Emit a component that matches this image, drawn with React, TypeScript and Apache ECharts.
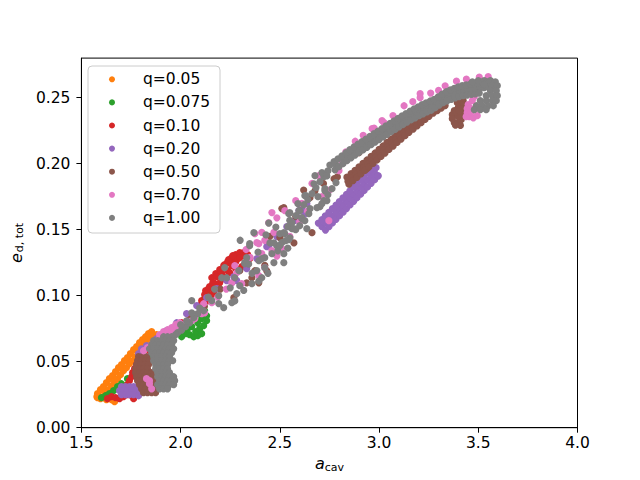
import React, { useEffect, useRef } from 'react';
import * as echarts from 'echarts';

const X_TICKS = [1.5, 2.0, 2.5, 3.0, 3.5, 4.0];
const Y_TICKS = [0, 0.05, 0.1, 0.15, 0.2, 0.25];
const SERIES_NAMES = ['q=0.05', 'q=0.075', 'q=0.10', 'q=0.20', 'q=0.50', 'q=0.70', 'q=1.00'];
const SERIES_COLORS = ['#ff7f0e', '#2ca02c', '#d62728', '#9467bd', '#8c564b', '#e377c2', '#7f7f7f'];

const Q005: number[][] = [
  [1.581, 0.0258], [1.596, 0.0288], [1.611, 0.0311], [1.626, 0.0341], [1.641, 0.0371], [1.657, 0.0394], [1.672, 0.0424],
  [1.687, 0.0455], [1.702, 0.0477], [1.717, 0.0508], [1.732, 0.0530], [1.747, 0.0561], [1.763, 0.0591], [1.778, 0.0614],
  [1.793, 0.0644], [1.808, 0.0667], [1.823, 0.0689], [1.838, 0.0712], [1.854, 0.0727],
  [1.606, 0.0235], [1.621, 0.0265], [1.636, 0.0288], [1.652, 0.0318], [1.667, 0.0348], [1.682, 0.0371], [1.697, 0.0402],
  [1.712, 0.0432], [1.727, 0.0455], [1.742, 0.0485], [1.758, 0.0508], [1.773, 0.0538], [1.788, 0.0568], [1.803, 0.0591],
  [1.818, 0.0621], [1.833, 0.0644], [1.848, 0.0667], [1.864, 0.0689], [1.879, 0.0705],
  [1.578, 0.0235], [1.581, 0.0227], [1.596, 0.0220], [1.626, 0.0212], [1.652, 0.0212], [1.667, 0.0197],
];

const Q0075: number[][] = [
  [1.601, 0.0227], [1.621, 0.0242], [1.641, 0.0258], [1.662, 0.0280], [1.682, 0.0311], [1.702, 0.0333],
  [1.732, 0.0371], [1.763, 0.0417], [1.803, 0.0470], [1.854, 0.0530], [1.904, 0.0583], [1.955, 0.0644],
  [2.005, 0.0689], [2.025, 0.0712], [2.045, 0.0705], [2.066, 0.0689], [2.086, 0.0697], [2.106, 0.0712], [2.076, 0.0727],
  [2.096, 0.0750], [2.116, 0.0773], [2.131, 0.0811], [2.131, 0.0848], [2.121, 0.0886], [2.106, 0.0826], [2.086, 0.0795],
  [2.056, 0.0765], [2.035, 0.0750], [2.106, 0.0924], [2.121, 0.0977], [2.131, 0.1030],
];

const Q010: number[][] = [
  [1.631, 0.0220], [1.652, 0.0235], [1.672, 0.0227], [1.692, 0.0220], [1.712, 0.0235], [1.732, 0.0250], [1.753, 0.0242],
  [1.763, 0.0220], [1.702, 0.0265],
  [1.722, 0.0295], [1.732, 0.0326], [1.742, 0.0356], [1.753, 0.0386], [1.758, 0.0417], [1.768, 0.0447], [1.778, 0.0477],
  [1.803, 0.0530], [1.843, 0.0583], [1.884, 0.0636], [1.924, 0.0689], [1.965, 0.0742], [2.005, 0.0795], [2.045, 0.0848],
  [2.096, 0.0924], [2.116, 0.0962], [2.136, 0.0992], [2.126, 0.1038], [2.146, 0.1068], [2.167, 0.1098], [2.157, 0.1136],
  [2.177, 0.1167], [2.197, 0.1197], [2.217, 0.1227], [2.237, 0.1258], [2.258, 0.1288], [2.278, 0.1311], [2.298, 0.1326],
  [2.318, 0.1326], [2.338, 0.1311], [2.348, 0.1280], [2.328, 0.1250], [2.308, 0.1220], [2.278, 0.1205], [2.247, 0.1174],
  [2.217, 0.1129], [2.187, 0.1083], [2.167, 0.1023], [2.146, 0.0962], [2.247, 0.1250], [2.207, 0.1167], [2.288, 0.1280],
  [2.116, 0.0917], [2.136, 0.0962], [2.157, 0.1008], [2.177, 0.1053], [2.197, 0.1098], [2.217, 0.1144], [2.237, 0.1189],
  [2.258, 0.1227], [2.278, 0.1258], [2.298, 0.1288], [2.323, 0.1303],
  [2.106, 0.0962], [2.121, 0.1008], [2.141, 0.1053], [2.162, 0.1098], [2.182, 0.1144], [2.202, 0.1189], [2.222, 0.1235],
  [2.242, 0.1273], [2.263, 0.1303],
];

const Q020: number[][] = [
  [1.702, 0.0311], [1.722, 0.0311], [1.742, 0.0311], [1.763, 0.0311], [1.783, 0.0311],
  [1.692, 0.0280], [1.712, 0.0280], [1.732, 0.0280], [1.753, 0.0280], [1.773, 0.0280], [1.793, 0.0280],
  [1.702, 0.0250], [1.722, 0.0250], [1.742, 0.0250], [1.763, 0.0250], [1.788, 0.0242],
  [1.783, 0.0364], [1.788, 0.0561], [1.803, 0.0598],
  [1.828, 0.0621], [1.879, 0.0674], [1.929, 0.0735], [1.980, 0.0795], [2.030, 0.0864], [2.081, 0.0924], [2.131, 0.0985],
  [2.182, 0.1053], [2.232, 0.1114], [2.268, 0.1144], [2.283, 0.1114], [2.258, 0.1098],
  [2.333, 0.1205], [2.384, 0.1280], [2.434, 0.1371], [2.444, 0.1379], [2.485, 0.1447], [2.535, 0.1523], [2.586, 0.1598],
  [2.611, 0.1659], [2.636, 0.1697], [2.596, 0.1644], [2.576, 0.1570], [2.626, 0.1620],
  [2.712, 0.1523], [2.730, 0.1550], [2.747, 0.1577], [2.765, 0.1605], [2.783, 0.1632], [2.801, 0.1659], [2.818, 0.1686],
  [2.836, 0.1714], [2.854, 0.1741], [2.871, 0.1768], [2.889, 0.1795], [2.907, 0.1823], [2.924, 0.1850], [2.942, 0.1877],
  [2.960, 0.1905], [2.977, 0.1932],
  [2.694, 0.1550], [2.712, 0.1577], [2.729, 0.1604], [2.747, 0.1632], [2.765, 0.1659], [2.783, 0.1686], [2.800, 0.1713],
  [2.818, 0.1741], [2.836, 0.1768], [2.853, 0.1795], [2.871, 0.1822], [2.889, 0.1850], [2.906, 0.1877], [2.924, 0.1904],
  [2.942, 0.1932], [2.959, 0.1959],
  [2.730, 0.1497], [2.748, 0.1524], [2.765, 0.1551], [2.783, 0.1579], [2.801, 0.1606], [2.819, 0.1633], [2.836, 0.1660],
  [2.854, 0.1688], [2.872, 0.1715], [2.889, 0.1742], [2.907, 0.1769], [2.925, 0.1797], [2.942, 0.1824], [2.960, 0.1851],
  [2.978, 0.1879], [2.995, 0.1906],
  [2.965, 0.1985], [2.985, 0.1970], [2.995, 0.1909],
];

const Q050: number[][] = [
  [1.788, 0.0538], [1.808, 0.0538], [1.828, 0.0538],
  [1.783, 0.0508], [1.803, 0.0508], [1.823, 0.0508], [1.843, 0.0508],
  [1.778, 0.0477], [1.798, 0.0477], [1.818, 0.0477], [1.838, 0.0477],
  [1.773, 0.0447], [1.793, 0.0447], [1.813, 0.0447], [1.833, 0.0447],
  [1.773, 0.0417], [1.793, 0.0417], [1.813, 0.0417], [1.833, 0.0417], [1.854, 0.0417],
  [1.778, 0.0386], [1.798, 0.0386], [1.818, 0.0386], [1.838, 0.0386], [1.859, 0.0386],
  [1.783, 0.0356], [1.803, 0.0356], [1.823, 0.0356], [1.843, 0.0356], [1.864, 0.0356],
  [1.793, 0.0326], [1.813, 0.0326], [1.833, 0.0326], [1.854, 0.0326], [1.874, 0.0326],
  [1.803, 0.0295], [1.823, 0.0295], [1.843, 0.0295], [1.864, 0.0295], [1.884, 0.0295],
  [1.813, 0.0265], [1.833, 0.0265], [1.854, 0.0265], [1.874, 0.0265],
  [1.950, 0.0660], [2.050, 0.0820], [2.120, 0.0920], [2.200, 0.1050], [2.268, 0.0985], [2.333, 0.1098], [2.359, 0.1136],
  [2.394, 0.1098], [2.298, 0.1189], [2.374, 0.1189], [2.434, 0.1189], [2.424, 0.1230], [2.500, 0.1440], [2.510, 0.1660],
  [2.520, 0.1667], [2.571, 0.1400], [2.662, 0.1477], [2.652, 0.1742], [2.677, 0.1795], [2.773, 0.1886], [2.899, 0.2083],
  [2.939, 0.1962], [2.580, 0.1600], [2.620, 0.1800], [2.450, 0.1450], [2.720, 0.1850], [2.790, 0.1900],
  [2.838, 0.1898], [2.859, 0.1925], [2.879, 0.1950], [2.899, 0.1976], [2.919, 0.2002], [2.939, 0.2028], [2.960, 0.2055],
  [2.980, 0.2081], [3.000, 0.2108], [3.020, 0.2134], [3.040, 0.2161], [3.061, 0.2187], [3.081, 0.2214], [3.101, 0.2240],
  [3.121, 0.2265], [3.141, 0.2291], [3.162, 0.2315], [3.182, 0.2340], [3.202, 0.2364], [3.222, 0.2388], [3.242, 0.2412],
  [3.263, 0.2437], [3.283, 0.2455], [3.303, 0.2474], [3.323, 0.2493],
  [2.843, 0.1867], [2.864, 0.1894], [2.884, 0.1919], [2.904, 0.1945], [2.924, 0.1971], [2.944, 0.1997], [2.965, 0.2024],
  [2.985, 0.2050], [3.005, 0.2077], [3.025, 0.2103], [3.045, 0.2130], [3.066, 0.2156], [3.086, 0.2183], [3.106, 0.2209],
  [3.126, 0.2234], [3.146, 0.2260], [3.167, 0.2284], [3.187, 0.2309], [3.207, 0.2333], [3.227, 0.2357], [3.247, 0.2381],
  [3.268, 0.2406], [3.288, 0.2424], [3.308, 0.2443], [3.328, 0.2462],
  [2.848, 0.1845], [2.869, 0.1872], [2.889, 0.1897], [2.909, 0.1923], [2.929, 0.1949], [2.949, 0.1975], [2.970, 0.2002],
  [2.990, 0.2028], [3.010, 0.2055], [3.030, 0.2081], [3.050, 0.2108], [3.071, 0.2134], [3.091, 0.2161], [3.111, 0.2187],
  [3.131, 0.2212], [3.151, 0.2238], [3.172, 0.2262], [3.192, 0.2287], [3.212, 0.2311], [3.232, 0.2335], [3.252, 0.2359],
  [3.273, 0.2384], [3.293, 0.2402], [3.313, 0.2421], [3.333, 0.2440],
  [3.348, 0.2485], [3.369, 0.2500], [3.389, 0.2508], [3.409, 0.2500], [3.424, 0.2477], [3.419, 0.2447], [3.399, 0.2424],
  [3.379, 0.2402], [3.369, 0.2371], [3.369, 0.2341], [3.379, 0.2311], [3.399, 0.2311], [3.414, 0.2333], [3.419, 0.2371],
  [3.399, 0.2356], [3.424, 0.2417], [3.394, 0.2462], [3.389, 0.2390], [3.404, 0.2400], [3.410, 0.2290], [3.385, 0.2292],
];

const Q070: number[][] = [
  [1.813, 0.0583], [1.833, 0.0606], [1.854, 0.0629], [1.874, 0.0652], [1.894, 0.0674], [1.914, 0.0689], [1.934, 0.0712],
  [1.955, 0.0727], [1.975, 0.0750], [1.995, 0.0765], [2.015, 0.0780], [2.035, 0.0795], [2.056, 0.0811],
  [1.894, 0.0705], [1.914, 0.0727], [1.934, 0.0742], [1.955, 0.0758], [1.975, 0.0780], [1.995, 0.0795],
  [1.828, 0.0371], [1.843, 0.0333], [1.854, 0.0295], [1.934, 0.0402], [1.944, 0.0356], [1.843, 0.0356],
  [2.071, 0.0826], [2.106, 0.0864], [2.116, 0.0939], [2.157, 0.0947], [2.121, 0.0870], [2.258, 0.1098], [2.308, 0.1091],
  [2.273, 0.1227], [2.394, 0.1394], [2.409, 0.1318], [2.283, 0.1174], [2.187, 0.0990], [2.230, 0.1050],
  [2.460, 0.1630], [2.485, 0.1590], [2.409, 0.1480], [2.374, 0.1470], [2.424, 0.1420], [2.485, 0.1300], [2.611, 0.1700],
  [2.662, 0.1850], [2.712, 0.1750], [2.697, 0.1909], [2.525, 0.1644], [2.444, 0.1553], [2.384, 0.1402], [2.460, 0.1341],
  [2.510, 0.1356], [2.424, 0.1212], [2.394, 0.1152], [2.747, 0.1568], [2.550, 0.1450], [2.600, 0.1560], [2.640, 0.1640],
  [2.580, 0.1720], [2.750, 0.1800], [2.330, 0.1350], [2.470, 0.1480], [2.350, 0.1290],
  [2.798, 0.1947], [2.813, 0.2023], [2.833, 0.2090], [2.854, 0.2098], [2.880, 0.2170], [2.920, 0.2215], [2.965, 0.2265],
  [2.975, 0.2270], [3.015, 0.2326], [3.025, 0.2311], [3.070, 0.2365], [3.126, 0.2439], [3.170, 0.2470], [3.207, 0.2500],
  [3.207, 0.2530], [3.260, 0.2535], [3.300, 0.2555], [3.333, 0.2590], [3.390, 0.2625], [3.440, 0.2640], [3.505, 0.2655],
  [3.550, 0.2660],
  [3.460, 0.2538], [3.480, 0.2508], [3.470, 0.2477], [3.449, 0.2447], [3.444, 0.2417], [3.444, 0.2386], [3.455, 0.2356],
  [3.475, 0.2348], [3.495, 0.2364], [3.439, 0.2356], [3.460, 0.2420], [3.465, 0.2390],
];

const Q100: number[][] = [
  [1.914, 0.0689], [1.934, 0.0689], [1.955, 0.0689],
  [1.864, 0.0659], [1.884, 0.0659], [1.904, 0.0659], [1.924, 0.0659], [1.944, 0.0659], [1.965, 0.0659],
  [1.854, 0.0629], [1.874, 0.0629], [1.894, 0.0629], [1.914, 0.0629], [1.934, 0.0629], [1.955, 0.0629],
  [1.843, 0.0598], [1.864, 0.0598], [1.884, 0.0598], [1.904, 0.0598], [1.924, 0.0598], [1.944, 0.0598], [1.965, 0.0598],
  [1.854, 0.0568], [1.874, 0.0568], [1.894, 0.0568], [1.914, 0.0568], [1.934, 0.0568], [1.955, 0.0568],
  [1.864, 0.0538], [1.884, 0.0538], [1.904, 0.0538], [1.924, 0.0538], [1.944, 0.0538],
  [1.864, 0.0508], [1.884, 0.0508], [1.904, 0.0508], [1.924, 0.0508], [1.944, 0.0508], [1.960, 0.0508],
  [1.874, 0.0477], [1.894, 0.0477], [1.914, 0.0477], [1.934, 0.0477],
  [1.874, 0.0447], [1.894, 0.0447], [1.914, 0.0447], [1.934, 0.0447],
  [1.884, 0.0417], [1.904, 0.0417], [1.924, 0.0417], [1.944, 0.0417],
  [1.884, 0.0386], [1.904, 0.0386], [1.924, 0.0386], [1.944, 0.0386], [1.965, 0.0386],
  [1.894, 0.0356], [1.914, 0.0356], [1.934, 0.0356], [1.955, 0.0356], [1.970, 0.0356],
  [1.884, 0.0326], [1.904, 0.0326], [1.924, 0.0326], [1.944, 0.0326], [1.965, 0.0326],
  [1.894, 0.0295], [1.914, 0.0295], [1.934, 0.0295],
  [1.985, 0.0720], [2.005, 0.0740], [2.025, 0.0765], [2.045, 0.0795], [2.066, 0.0833], [2.086, 0.0864], [2.056, 0.0870],
  [2.030, 0.0810], [1.975, 0.0705], [2.056, 0.0962], [2.116, 0.0886], [2.096, 0.0905], [2.000, 0.0780],
  [2.157, 0.0962], [2.192, 0.1000], [2.217, 0.0909], [2.258, 0.0947], [2.283, 0.1015], [2.298, 0.1076], [2.273, 0.1136],
  [2.222, 0.1212], [2.207, 0.1136], [2.333, 0.1288], [2.348, 0.1379], [2.323, 0.1242], [2.359, 0.1091], [2.409, 0.1136],
  [2.424, 0.1212], [2.369, 0.1477], [2.348, 0.1394], [2.500, 0.1470], [2.561, 0.1508], [2.551, 0.1439], [2.510, 0.1402],
  [2.485, 0.1379], [2.460, 0.1318], [2.424, 0.1288], [2.394, 0.1265], [2.520, 0.1318], [2.323, 0.1250], [2.293, 0.1190],
  [2.232, 0.1136], [2.171, 0.1050], [2.140, 0.0990], [2.470, 0.1250], [2.440, 0.1170], [2.540, 0.1360], [2.300, 0.1420],
  [2.250, 0.1060], [2.390, 0.1330], [2.450, 0.1400], [2.444, 0.1550],
  [2.343, 0.1240], [2.384, 0.1190], [2.394, 0.1110], [2.318, 0.1040], [2.273, 0.0960], [2.192, 0.0940], [2.525, 0.1470],
  [2.545, 0.1424], [2.430, 0.1460], [2.480, 0.1520], [2.470, 0.1400], [2.360, 0.1170], [2.410, 0.1280], [2.550, 0.1570],
  [2.580, 0.1500], [2.600, 0.1530], [2.490, 0.1340], [2.520, 0.1250],
  [2.520, 0.1477], [2.540, 0.1523], [2.561, 0.1553], [2.581, 0.1606], [2.601, 0.1644], [2.621, 0.1689], [2.641, 0.1727],
  [2.662, 0.1773], [2.682, 0.1818], [2.702, 0.1864], [2.722, 0.1902], [2.571, 0.1508], [2.611, 0.1583], [2.652, 0.1659],
  [2.692, 0.1750], [2.727, 0.1811], [2.591, 0.1697], [2.631, 0.1758], [2.672, 0.1848], [2.712, 0.1932], [2.550, 0.1629],
  [2.530, 0.1417], [2.500, 0.1379], [2.636, 0.1508], [2.702, 0.1674], [2.722, 0.1720], [2.742, 0.1765], [2.763, 0.1811],
  [2.783, 0.1856], [2.611, 0.1591], [2.626, 0.1568], [2.646, 0.1621], [2.687, 0.1667], [2.712, 0.1697], [2.737, 0.1720],
  [2.727, 0.1795], [2.677, 0.1909], [2.626, 0.1758], [2.596, 0.1644], [2.545, 0.1621],
  [2.742, 0.1945], [2.783, 0.1992], [2.823, 0.2038], [2.843, 0.2061], [2.864, 0.2083], [2.884, 0.2103], [2.904, 0.2123],
  [2.924, 0.2142], [2.944, 0.2162], [2.965, 0.2182], [2.985, 0.2202], [3.005, 0.2221], [3.025, 0.2241], [3.045, 0.2261],
  [3.066, 0.2280], [3.086, 0.2298], [3.106, 0.2317], [3.126, 0.2335], [3.146, 0.2353], [3.167, 0.2371], [3.187, 0.2386],
  [3.207, 0.2402], [3.227, 0.2416], [3.247, 0.2430], [3.268, 0.2443], [3.288, 0.2462], [3.308, 0.2482], [3.328, 0.2500],
  [3.348, 0.2514], [3.369, 0.2526], [3.389, 0.2537], [3.409, 0.2546], [3.429, 0.2553], [3.449, 0.2558], [3.470, 0.2563],
  [3.490, 0.2567], [3.510, 0.2573], [3.530, 0.2577], [3.551, 0.2580], [3.571, 0.2583],
  [2.752, 0.1990], [2.773, 0.2015], [2.793, 0.2037], [2.813, 0.2060], [2.833, 0.2083], [2.853, 0.2106], [2.874, 0.2128],
  [2.894, 0.2148], [2.914, 0.2168], [2.934, 0.2187], [2.954, 0.2207], [2.975, 0.2227], [2.995, 0.2247], [3.015, 0.2266],
  [3.035, 0.2286], [3.056, 0.2306], [3.076, 0.2325], [3.096, 0.2343], [3.116, 0.2362], [3.136, 0.2380], [3.157, 0.2398],
  [3.177, 0.2416], [3.197, 0.2431], [3.217, 0.2447], [3.237, 0.2461], [3.258, 0.2475], [3.278, 0.2488], [3.298, 0.2507],
  [3.318, 0.2527], [3.338, 0.2545], [3.359, 0.2559], [3.379, 0.2571], [3.399, 0.2582], [3.419, 0.2591], [3.439, 0.2598],
  [3.460, 0.2603], [3.480, 0.2608], [3.500, 0.2612], [3.520, 0.2618], [3.540, 0.2622], [3.561, 0.2625],
  [2.737, 0.1907], [2.778, 0.1954], [2.798, 0.1977], [2.818, 0.2000], [2.838, 0.2023], [2.859, 0.2045], [2.879, 0.2065],
  [2.899, 0.2085], [2.919, 0.2104], [2.939, 0.2124], [2.960, 0.2144], [2.980, 0.2164], [3.000, 0.2183], [3.020, 0.2203],
  [3.041, 0.2223], [3.061, 0.2242], [3.081, 0.2260], [3.101, 0.2279], [3.121, 0.2297], [3.141, 0.2315], [3.162, 0.2333],
  [3.182, 0.2348], [3.202, 0.2364], [3.222, 0.2378], [3.242, 0.2392], [3.263, 0.2405], [3.283, 0.2424], [3.303, 0.2444],
  [3.323, 0.2462], [3.343, 0.2476], [3.364, 0.2488], [3.384, 0.2499], [3.404, 0.2508], [3.424, 0.2515], [3.444, 0.2520],
  [3.465, 0.2525], [3.485, 0.2529], [3.505, 0.2535],
  [3.500, 0.2629], [3.530, 0.2629], [3.561, 0.2629], [3.586, 0.2620], [3.571, 0.2591], [3.596, 0.2591], [3.561, 0.2553],
  [3.591, 0.2553], [3.540, 0.2515], [3.571, 0.2515], [3.596, 0.2515], [3.510, 0.2477], [3.540, 0.2477], [3.571, 0.2477],
  [3.591, 0.2477], [3.490, 0.2439], [3.520, 0.2439], [3.551, 0.2439], [3.576, 0.2439], [3.480, 0.2409], [3.510, 0.2409],
  [3.540, 0.2409], [3.530, 0.2600], [3.470, 0.2620],
];

const SERIES_DATA = [Q005, Q0075, Q010, Q020, Q050, Q070, Q100];

const FONT = 'DejaVu Sans';

export default function App() {
  const ref = useRef<HTMLDivElement>(null);
  useEffect(() => {
    if (!ref.current) return;
    const chart = echarts.init(ref.current, null, { renderer: 'svg' });
    const legendItems: any[] = [];
    SERIES_NAMES.forEach((n, i) => {
      const cy = 79.3 + 23.1 * i;
      legendItems.push({
        type: 'circle', shape: { cx: 112, cy, r: 3 }, style: { fill: SERIES_COLORS[i] }, silent: true,
      });
      legendItems.push({
        type: 'text', x: 143, y: cy,
        style: { text: n, fill: '#000', font: `15.5px "${FONT}"`, textVerticalAlign: 'middle', verticalAlign: 'middle' },
        silent: true,
      });
    });
    chart.setOption({
      animation: false,
      backgroundColor: '#ffffff',
      grid: {
        left: 80, top: 58.1, width: 497.5, height: 369.6,
        show: true, borderColor: '#000', borderWidth: 1, backgroundColor: 'transparent',
      },
      graphic: [
        {
          type: 'group', z: 100,
          children: [
            {
              type: 'rect', shape: { x: 88, y: 66, width: 132, height: 167, r: 4 },
              style: { fill: 'rgba(255,255,255,0.8)', stroke: '#cccccc', lineWidth: 1 }, silent: true,
            },
            ...legendItems,
          ],
        },
      ],
      xAxis: {
        type: 'value',
        min: X_TICKS[0],
        max: X_TICKS[X_TICKS.length - 1],
        interval: 0.5,
        axisLine: { show: true, onZero: false, lineStyle: { color: '#000', width: 1 } },
        axisTick: { show: true, inside: false, length: 5, lineStyle: { color: '#000', width: 1 } },
        axisLabel: {
          margin: 7, fontFamily: FONT, fontSize: 15.5, color: '#000',
          formatter: (v: number) => v.toFixed(1),
        },
        splitLine: { show: false },
        name: '{i|a}{s|cav}',
        nameLocation: 'middle',
        nameGap: 26,
        nameTextStyle: {
          rich: {
            i: { fontFamily: FONT, fontStyle: 'italic', fontSize: 16, color: '#000' },
            s: { fontFamily: FONT, fontSize: 11, color: '#000', padding: [7, 0, 0, 0] },
          },
        },
      },
      yAxis: {
        type: 'value',
        min: 0,
        max: 0.28,
        axisLine: { show: true, onZero: false, lineStyle: { color: '#000', width: 1 } },
        axisTick: { show: true, inside: false, length: 5, lineStyle: { color: '#000', width: 1 }, customValues: Y_TICKS },
        axisLabel: {
          margin: 11, fontFamily: FONT, fontSize: 15.5, color: '#000', customValues: Y_TICKS,
          formatter: (v: number) => v.toFixed(2),
        },
        splitLine: { show: false },
        name: '{i|e}{s|d, tot}',
        nameLocation: 'middle',
        nameRotate: 90,
        nameGap: 55,
        nameTextStyle: {
          rich: {
            i: { fontFamily: FONT, fontStyle: 'italic', fontSize: 16, color: '#000' },
            s: { fontFamily: FONT, fontSize: 11, color: '#000', padding: [7, 0, 0, 1] },
          },
        },
      },
      series: SERIES_DATA.map((d, i) => ({
        type: 'scatter',
        name: SERIES_NAMES[i],
        data: d,
        symbol: 'circle',
        symbolSize: 7.2,
        itemStyle: { color: SERIES_COLORS[i], opacity: 1 },
        emphasis: { disabled: true },
        silent: true,
      })),
    });
    return () => chart.dispose();
  }, []);
  return <div ref={ref} style={{ position: 'absolute', left: 0, top: 0, width: 640, height: 480 }} />;
}
